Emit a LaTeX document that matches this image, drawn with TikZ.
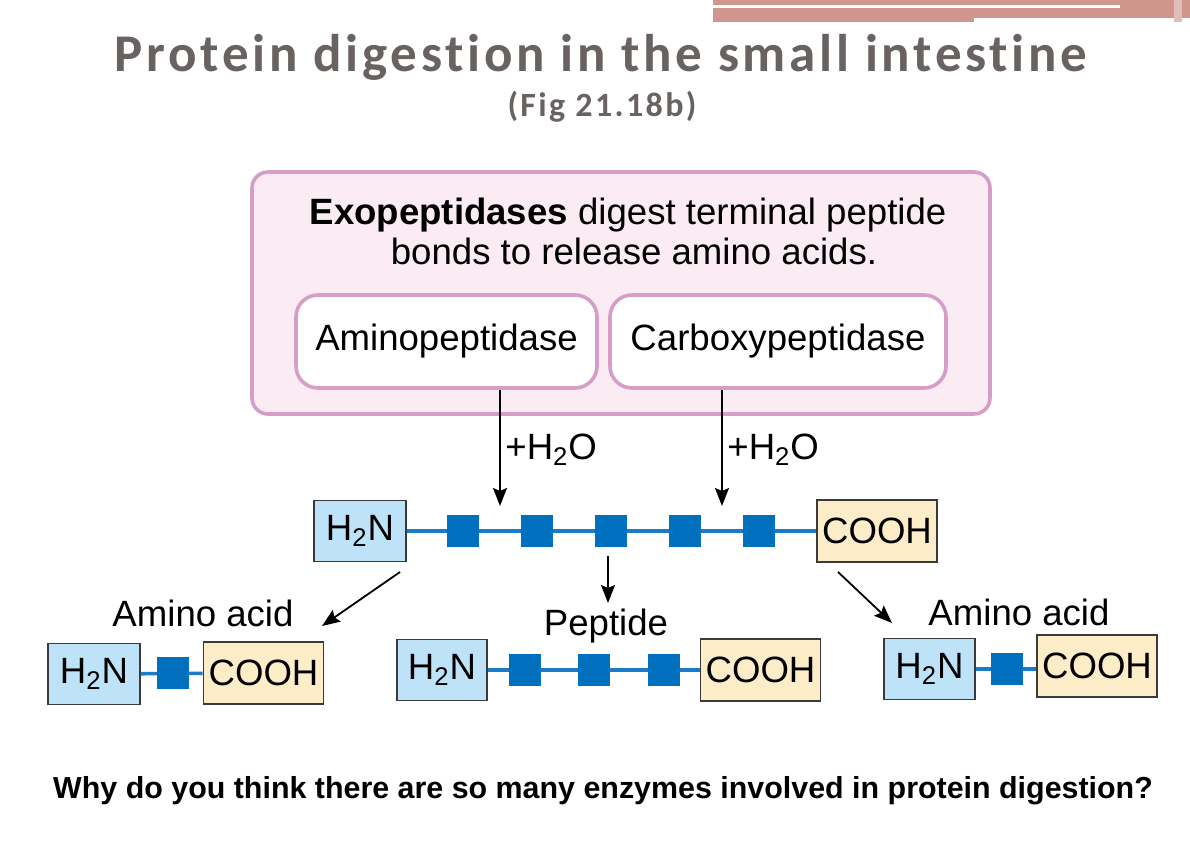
\documentclass[tikz,border=0pt]{standalone}
\usepackage{fontspec}
\setmainfont{Liberation Sans}
\newfontfamily\titlefont[LetterSpace=7,Ligatures=NoCommon]{Carlito}
\usetikzlibrary{arrows.meta}
\definecolor{titlegray}{RGB}{104,98,96}
\definecolor{deco}{RGB}{208,150,142}
\definecolor{decolight}{RGB}{226,188,182}
\definecolor{exofill}{RGB}{251,236,244}
\definecolor{exoline}{RGB}{214,158,198}
\definecolor{nblue}{RGB}{190,227,248}
\definecolor{cyellow}{RGB}{252,236,200}
\definecolor{boxline}{RGB}{58,58,58}
\definecolor{resblue}{RGB}{0,112,190}
\definecolor{linkblue}{RGB}{26,124,200}
\begin{document}
\begin{tikzpicture}[x=0.5pt,y=-0.5pt,
    lbl/.style={font=\fontsize{18.3}{22}\selectfont, inner sep=0pt},
    nbox/.style={lbl, draw=boxline, fill=nblue, line width=0.9pt, minimum width=46pt, minimum height=30.5pt},
    cbox/.style={lbl, draw=boxline, fill=cyellow, line width=0.9pt, minimum width=60pt, minimum height=31pt},
    res/.style={fill=resblue, minimum size=16pt, inner sep=0pt},
    enz/.style={lbl, draw=exoline, fill=white, line width=1.8pt, rounded corners=11pt, minimum height=46.5pt},
    link/.style={draw=linkblue, line width=1.8pt},
    arr/.style={-{Stealth[length=9pt,width=7pt,inset=1.5pt]}, line width=0.9pt}]
  \useasboundingbox (0,0) rectangle (1190,850);
  % top right bars
  \fill[deco] (713,0) rectangle (1190,22);
  \fill[white] (713,5) rectangle (1120,8);
  \fill[white] (974,18) rectangle (1190,22);
  \fill[decolight] (1174,0) rectangle (1182,22);
  % titles
  \node[anchor=base, font=\titlefont\bfseries\fontsize{26.5}{30}\selectfont, text=titlegray] (title) at (601,72) {Protein digestion in the small intestine};
  \node[anchor=base, font=\titlefont\bfseries\fontsize{17}{21}\selectfont, text=titlegray] (fig) at (602,117) {(Fig 21.18b)};
  % exopeptidase panel
  \draw[exoline, fill=exofill, line width=1.8pt, rounded corners=8pt] (252,172) rectangle (990,414);
  \node[lbl, anchor=base] (head1) at (628,225) {\textbf{Exopeptidases} digest terminal peptide};
  \node[lbl, anchor=base] (head2) at (634,265) {bonds to release amino acids.};
  \node[enz, minimum width=150.5pt] (amino) at (446.5,341.5) {Aminopeptidase};
  \node[enz, minimum width=168pt] (carboxy) at (778,341.5) {Carboxypeptidase};
  % peptide chain
  \node[nbox] (n0) at (360,531) {H\textsubscript{2}N};
  \node[cbox] (c0) at (877,531) {COOH};
  \draw[link] (n0) -- (c0);
  \foreach \x [count=\i] in {463,537,611,685,759}
    \node[res] (r\i) at (\x,531) {};
  \coordinate (cutA) at (500,506);
  \coordinate (cutC) at (722,506);
  \draw[arr] (amino.south -| cutA) -- (cutA);
  \draw[arr] (carboxy.south -| cutC) -- (cutC);
  \node[lbl, anchor=west] (wa) at (505,450) {+H\textsubscript{2}O};
  \node[lbl, anchor=west] (wc) at (727,450) {+H\textsubscript{2}O};
  % products
  \node[lbl, anchor=base] (laa) at (203,626) {Amino acid};
  \node[lbl, anchor=base] (lpep) at (606,635) {Peptide};
  \node[lbl, anchor=base] (lab) at (1019,625) {Amino acid};
  \coordinate (sl) at (400,572);
  \coordinate (el) at (322,626);
  \coordinate (sm) at (608,556);
  \coordinate (em) at (608,603);
  \coordinate (sr) at (838,572);
  \coordinate (er) at (892,623);
  \draw[arr] (sl) -- (el);
  \draw[arr] (sm) -- (em);
  \draw[arr] (sr) -- (er);
  % left amino acid
  \node[nbox] (na) at (94,674) {H\textsubscript{2}N};
  \node[cbox] (ca) at (263.5,673) {COOH};
  \draw[link] (na) -- (ca);
  \node[res] (ra) at (173,673) {};
  % peptide
  \node[nbox, minimum width=45pt] (np) at (442,670) {H\textsubscript{2}N};
  \node[cbox] (cp) at (760.5,670) {COOH};
  \draw[link] (np) -- (cp);
  \foreach \x [count=\i] in {525,594,664}
    \node[res] (rp\i) at (\x,670) {};
  % right amino acid
  \node[nbox, minimum width=45.5pt] (nb) at (929.5,669) {H\textsubscript{2}N};
  \node[cbox] (cb) at (1097,666) {COOH};
  \draw[link] (nb.east) -- (nb.east -| cb.west);
  \node[res] (rb) at (1006.5,669) {};
  % question
  \node[anchor=base, font=\bfseries\fontsize{15.2}{18}\selectfont] (q) at (603,798) {Why do you think there are so many enzymes involved in protein digestion?};
\end{tikzpicture}
\end{document}
